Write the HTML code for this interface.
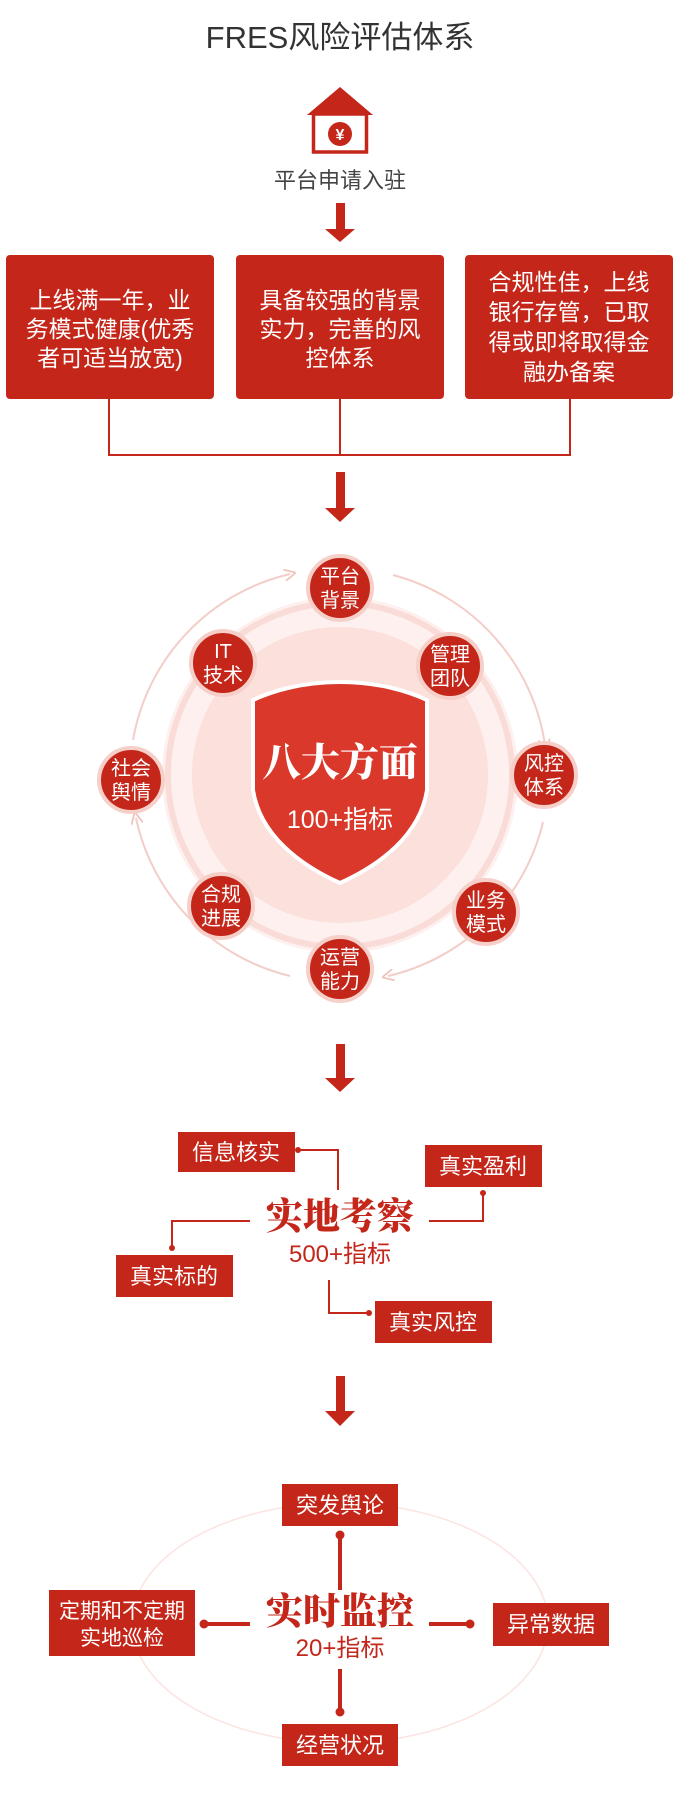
<!DOCTYPE html>
<html><head><meta charset="utf-8"><style>
html,body{margin:0;padding:0;background:#fff;width:680px;height:1800px;overflow:hidden}
svg{display:block}
text{font-family:"Liberation Sans","Noto Sans CJK SC",sans-serif}
.w{fill:#fff;font-size:23px}
.s{font-family:"Liberation Serif","Noto Serif CJK SC",serif;font-weight:900}
</style></head><body>
<svg width="680" height="1800" viewBox="0 0 680 1800">
<defs>
<marker id="ah" viewBox="0 0 10 10" refX="5" refY="5" markerWidth="6" markerHeight="6" orient="auto"><path d="M0,0 L10,5 L0,10" fill="none" stroke="#f0c4be" stroke-width="1.5"/></marker>
</defs>
<text x="340" y="48" text-anchor="middle" font-size="31" fill="#333">FRES风险评估体系</text>
<g>
<polygon points="340,87 307,115 373,115" fill="#c4261a"/>
<rect x="313.5" y="114" width="53" height="38" fill="#fff" stroke="#c4261a" stroke-width="3.5"/>
<circle cx="340" cy="134" r="12" fill="#c4261a"/>
<text x="340" y="140" text-anchor="middle" font-size="16" fill="#fff" font-weight="bold">¥</text>
</g>
<text x="340" y="188" text-anchor="middle" font-size="22" fill="#444">平台申请入驻</text>
<g fill="#c4261a"><rect x="336" y="203" width="9" height="28"/><polygon points="325,229 355,229 340,242"/></g>
<g><rect x="6" y="255" width="208" height="144" rx="4" fill="#c4261a"/>
<text class="w" text-anchor="middle"><tspan x="110" y="308">上线满一年，业</tspan><tspan x="110" y="337">务模式健康(优秀</tspan><tspan x="110" y="366">者可适当放宽)</tspan></text></g>
<g><rect x="236" y="255" width="208" height="144" rx="4" fill="#c4261a"/>
<text class="w" text-anchor="middle"><tspan x="340" y="308">具备较强的背景</tspan><tspan x="340" y="337">实力，完善的风</tspan><tspan x="340" y="366">控体系</tspan></text></g>
<g><rect x="465" y="255" width="208" height="144" rx="4" fill="#c4261a"/>
<text class="w" text-anchor="middle"><tspan x="569" y="290">合规性佳，上线</tspan><tspan x="569" y="320">银行存管，已取</tspan><tspan x="569" y="350">得或即将取得金</tspan><tspan x="569" y="380">融办备案</tspan></text></g>
<path d="M109,399 V455 H570 V399 M340,399 V455" fill="none" stroke="#c4261a" stroke-width="2"/>
<g fill="#c4261a"><rect x="336" y="472" width="9" height="38"/><polygon points="325,508 355,508 340,522"/></g>
<g>
<circle cx="340" cy="775" r="178" fill="#fdf0ee"/>
<circle cx="340" cy="775" r="172" fill="none" stroke="#f9dcd8" stroke-width="6"/>
<circle cx="340" cy="775" r="148" fill="#fbe0dc"/>
<path d="M133,740 A207,207 0 0 1 290,574" fill="none" stroke="#f3cdc8" stroke-width="2" marker-end="url(#ah)"/>
<path d="M393,575 A207,207 0 0 1 545,745" fill="none" stroke="#f3cdc8" stroke-width="2" marker-end="url(#ah)"/>
<path d="M543,822 A207,207 0 0 1 388,976" fill="none" stroke="#f3cdc8" stroke-width="2" marker-end="url(#ah)"/>
<path d="M290,976 A207,207 0 0 1 136,818" fill="none" stroke="#f3cdc8" stroke-width="2" marker-end="url(#ah)"/>
<path d="M340,682 C300,682 270,692 253,700 L253,790 C260,835 300,865 340,883 C380,865 420,835 427,790 L427,700 C410,692 380,682 340,682 Z" fill="#d9382a" stroke="#fff" stroke-width="4"/>
<text x="340" y="776" text-anchor="middle" class="s" font-size="39" fill="#fff">八大方面</text>
<text x="340" y="828" text-anchor="middle" font-size="25" fill="#fff">100+指标</text>
<g font-size="20" fill="#fff" text-anchor="middle">
<g><circle cx="340" cy="588" r="32" fill="#c4261a" stroke="#f6cfc9" stroke-width="4"/><text x="340" y="583">平台</text><text x="340" y="607">背景</text></g>
<g><circle cx="450" cy="666" r="32" fill="#c4261a" stroke="#f6cfc9" stroke-width="4"/><text x="450" y="661">管理</text><text x="450" y="685">团队</text></g>
<g><circle cx="544" cy="775" r="32" fill="#c4261a" stroke="#f6cfc9" stroke-width="4"/><text x="544" y="770">风控</text><text x="544" y="794">体系</text></g>
<g><circle cx="486" cy="912" r="32" fill="#c4261a" stroke="#f6cfc9" stroke-width="4"/><text x="486" y="907">业务</text><text x="486" y="931">模式</text></g>
<g><circle cx="340" cy="969" r="32" fill="#c4261a" stroke="#f6cfc9" stroke-width="4"/><text x="340" y="964">运营</text><text x="340" y="988">能力</text></g>
<g><circle cx="221" cy="906" r="32" fill="#c4261a" stroke="#f6cfc9" stroke-width="4"/><text x="221" y="901">合规</text><text x="221" y="925">进展</text></g>
<g><circle cx="131" cy="780" r="32" fill="#c4261a" stroke="#f6cfc9" stroke-width="4"/><text x="131" y="775">社会</text><text x="131" y="799">舆情</text></g>
<g><circle cx="223" cy="663" r="32" fill="#c4261a" stroke="#f6cfc9" stroke-width="4"/><text x="223" y="658">IT</text><text x="223" y="682">技术</text></g>
</g></g>
<g fill="#c4261a"><rect x="336" y="1044" width="9" height="36"/><polygon points="325,1078 355,1078 340,1092"/></g>
<g>
<text x="340" y="1229" text-anchor="middle" class="s" font-size="37" fill="#c4261a">实地考察</text>
<text x="340" y="1262" text-anchor="middle" font-size="24" fill="#c4261a">500+指标</text>
<g fill="none" stroke="#c4261a" stroke-width="2">
<path d="M298,1150 H338 V1190"/><path d="M429,1221 H483 V1193"/><path d="M250,1221 H172 V1248"/><path d="M329,1280 V1313 H369"/>
</g>
<g fill="#c4261a"><circle cx="298" cy="1150" r="3"/><circle cx="483" cy="1193" r="3"/><circle cx="172" cy="1248" r="3"/><circle cx="369" cy="1313" r="3"/></g>
<g font-size="22" fill="#fff" text-anchor="middle">
<rect x="178" y="1132" width="117" height="40" fill="#c4261a"/><text x="236" y="1160">信息核实</text>
<rect x="425" y="1145" width="117" height="42" fill="#c4261a"/><text x="483" y="1174">真实盈利</text>
<rect x="116" y="1255" width="117" height="42" fill="#c4261a"/><text x="174" y="1284">真实标的</text>
<rect x="375" y="1301" width="117" height="42" fill="#c4261a"/><text x="433" y="1330">真实风控</text>
</g></g>
<g fill="#c4261a"><rect x="336" y="1376" width="9" height="37"/><polygon points="325,1411 355,1411 340,1426"/></g>
<g>
<ellipse cx="340" cy="1623" rx="208" ry="120" fill="none" stroke="#fbe3e0" stroke-width="1.5"/>
<text x="340" y="1624" text-anchor="middle" class="s" font-size="37" fill="#c4261a">实时监控</text>
<text x="340" y="1656" text-anchor="middle" font-size="24" fill="#c4261a">20+指标</text>
<g stroke="#c4261a" stroke-width="4"><line x1="340" y1="1535" x2="340" y2="1590"/><line x1="340" y1="1669" x2="340" y2="1712"/><line x1="204" y1="1624" x2="250" y2="1624"/><line x1="429" y1="1624" x2="470" y2="1624"/></g>
<g fill="#c4261a"><circle cx="340" cy="1535" r="4.5"/><circle cx="340" cy="1712" r="4.5"/><circle cx="204" cy="1624" r="4.5"/><circle cx="470" cy="1624" r="4.5"/></g>
<g font-size="22" fill="#fff" text-anchor="middle">
<rect x="282" y="1484" width="116" height="42" fill="#c4261a"/><text x="340" y="1513">突发舆论</text>
<rect x="282" y="1724" width="116" height="42" fill="#c4261a"/><text x="340" y="1753">经营状况</text>
<rect x="493" y="1603" width="116" height="43" fill="#c4261a"/><text x="551" y="1632">异常数据</text>
<rect x="49" y="1590" width="146" height="66" fill="#c4261a"/><text x="122" y="1618" font-size="21">定期和不定期</text><text x="122" y="1645" font-size="21">实地巡检</text>
</g></g>
</svg>
</body></html>
